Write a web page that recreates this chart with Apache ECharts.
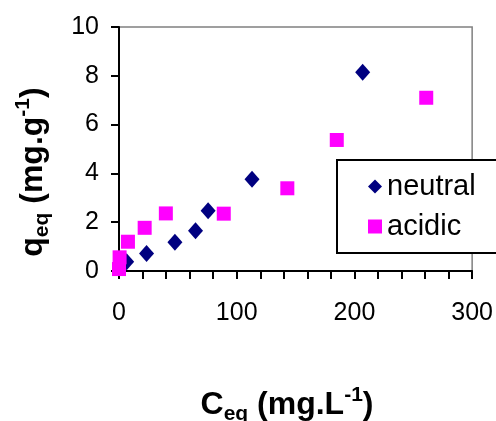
<!DOCTYPE html>
<html>
<head>
    <meta charset="utf-8">
    <title>q_eq vs C_eq</title>
    <style type="text/css">
        html, body {
            width: 100%;
            height: 100%;
            margin: 0;
            padding: 0;
            background: #ffffff;
        }
        #main {
            width: 496px;
            height: 421px;
        }
    </style>
    <script src="https://cdn.jsdelivr.net/npm/echarts@6/dist/echarts.min.js"></script>
</head>
<body>
<div id="main"></div>
<script type="text/javascript">
    // values
    var neutralC = [6.5, 23.4, 47.5, 65, 75.7, 113, 207];
    var neutralQ = [0.38, 0.72, 1.18, 1.65, 2.47, 3.76, 8.15];
    var acidicC = [0, 0.5, 7.6, 21.8, 39.8, 89, 143, 185, 261];
    var acidicQ = [0.08, 0.56, 1.2, 1.77, 2.36, 2.35, 3.39, 5.37, 7.1];
    var xTicks = [0, 100, 200, 300];
    var yTicks = [0, 2, 4, 6, 8, 10];

    function pairs(xs, ys) {
        var out = [];
        for (var i = 0; i < xs.length; i++) {
            out.push([xs[i], ys[i]]);
        }
        return out;
    }

    var font = '"Liberation Sans", Arial, sans-serif';
    var myChart = echarts.init(document.getElementById('main'), null, {renderer: 'canvas'});

    var axisLine = {lineStyle: {color: '#000', width: 2}};
    var titleRich = {
        b: {fontFamily: font, fontWeight: 'bold', fontSize: 32, lineHeight: 40, color: '#000'},
        sub: {fontFamily: font, fontWeight: 'bold', fontSize: 21, lineHeight: 21, verticalAlign: 'bottom', color: '#000'},
        sup: {fontFamily: font, fontWeight: 'bold', fontSize: 21, lineHeight: 21, verticalAlign: 'top', color: '#000'}
    };

    option = {
        animation: false,
        backgroundColor: '#fff',
        grid: {
            left: 119, right: 23, top: 27, bottom: 150,
            show: true,
            borderColor: '#808080',
            borderWidth: 1.5,
            backgroundColor: 'transparent'
        },
        legend: {
            orient: 'vertical',
            left: 337,
            top: 160,
            padding: [12, 22, 12, 31],
            itemGap: 11,
            itemWidth: 14,
            itemHeight: 14,
            borderColor: '#000',
            borderWidth: 2,
            backgroundColor: '#fff',
            textStyle: {fontFamily: font, fontSize: 29, color: '#000'},
            data: ['neutral', 'acidic']
        },
        xAxis: {
            type: 'value',
            min: xTicks[0],
            max: xTicks[xTicks.length - 1],
            interval: 100,
            splitLine: {show: false},
            axisLine: axisLine,
            axisTick: {show: true, inside: false, length: 8, lineStyle: {color: '#000', width: 2}},
            minorTick: {show: true, splitNumber: 5, length: 8, lineStyle: {color: '#000', width: 2}},
            axisLabel: {fontFamily: font, fontSize: 25, color: '#000', margin: 30}
        },
        yAxis: {
            type: 'value',
            min: yTicks[0],
            max: yTicks[yTicks.length - 1],
            interval: 2,
            splitLine: {show: false},
            axisLine: axisLine,
            axisTick: {show: true, inside: false, length: 8, lineStyle: {color: '#000', width: 2}},
            axisLabel: {fontFamily: font, fontSize: 25, color: '#000', margin: 20}
        },
        graphic: [
            {
                type: 'text',
                x: 287,
                y: 405,
                style: {
                    text: '{b|C}{sub|eq}{b| (mg.L}{sup|-1}{b|)}',
                    rich: titleRich,
                    align: 'center',
                    verticalAlign: 'middle'
                }
            },
            {
                type: 'text',
                x: 33,
                y: 172,
                rotation: Math.PI / 2,
                style: {
                    text: '{b|q}{sub|eq}{b| (mg.g}{sup|-1}{b|)}',
                    rich: titleRich,
                    align: 'center',
                    verticalAlign: 'middle'
                }
            }
        ],
        series: [
            {
                name: 'neutral',
                type: 'scatter',
                symbol: 'diamond',
                symbolSize: [15, 17],
                clip: false,
                itemStyle: {color: '#000080', opacity: 1},
                data: pairs(neutralC, neutralQ)
            },
            {
                name: 'acidic',
                type: 'scatter',
                symbol: 'rect',
                symbolSize: [14, 14],
                clip: false,
                itemStyle: {color: '#ff00ff', opacity: 1},
                data: pairs(acidicC, acidicQ)
            }
        ]
    };

    myChart.setOption(option);
</script>
</body>
</html>
